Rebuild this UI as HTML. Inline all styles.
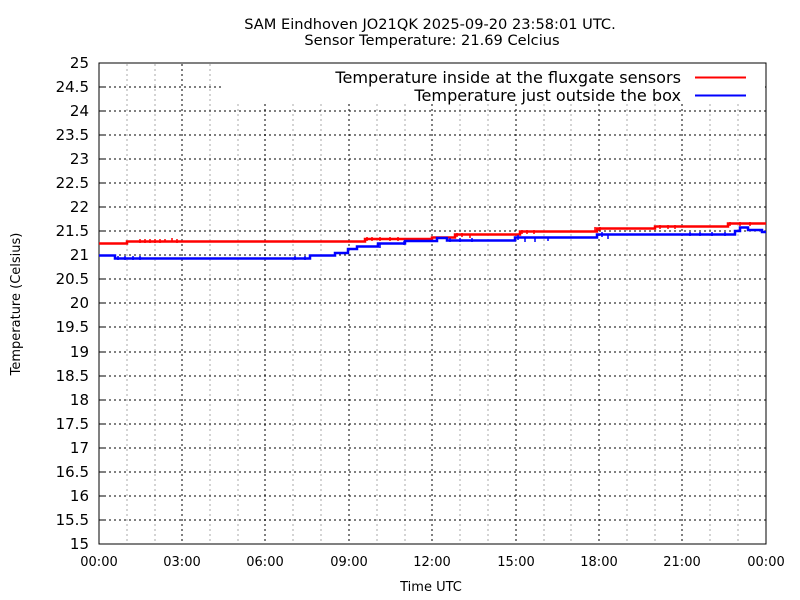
<!DOCTYPE html>
<html><head><style>body{margin:0;background:#fff}svg{display:block}</style></head><body>
<svg width="800" height="600" xmlns="http://www.w3.org/2000/svg" font-family="'DejaVu Sans','Liberation Sans',sans-serif" font-size="13">
<rect width="800" height="600" fill="#fff"/>
<g stroke="#aaa" stroke-width="1" stroke-dasharray="2,3">
<path d="M127 64V544M155 64V544M210 64V544M238 64V544M293 64V544M321 64V544M377 64V544M405 64V544M460 64V544M488 64V544M544 64V544M571 64V544M627 64V544M655 64V544M710 64V544M738 64V544"/>
</g>
<g stroke="#000" stroke-width="1" stroke-dasharray="2,3">
<path d="M182 64V544M265 64V544M349 64V544M432 64V544M516 64V544M599 64V544M682 64V544"/>
<path d="M99 520H766M99 496H766M99 472H766M99 448H766M99 424H766M99 400H766M99 376H766M99 352H766M99 327H766M99 303H766M99 279H766M99 255H766M99 231H766M99 207H766M99 183H766M99 159H766M99 135H766M99 111H766M99 87H766"/>
</g>
<rect x="222" y="64" width="543" height="40" fill="#fff"/>
<rect x="99" y="63" width="667" height="481" fill="none" stroke="#000"/>
<g stroke="#000"><path d="M99 544h6M99 520h6M99 496h6M99 472h6M99 448h6M99 424h6M99 400h6M99 376h6M99 352h6M99 327h6M99 303h6M99 279h6M99 255h6M99 231h6M99 207h6M99 183h6M99 159h6M99 135h6M99 111h6M99 87h6M99 63h6"/></g>
<g text-anchor="end" font-size="15">
<text x="89" y="549">15</text><text x="89" y="525">15.5</text><text x="89" y="501">16</text><text x="89" y="477">16.5</text><text x="89" y="453">17</text><text x="89" y="429">17.5</text><text x="89" y="405">18</text><text x="89" y="381">18.5</text><text x="89" y="357">19</text><text x="89" y="332">19.5</text><text x="89" y="308">20</text><text x="89" y="284">20.5</text><text x="89" y="260">21</text><text x="89" y="236">21.5</text><text x="89" y="212">22</text><text x="89" y="188">22.5</text><text x="89" y="164">23</text><text x="89" y="140">23.5</text><text x="89" y="116">24</text><text x="89" y="92">24.5</text><text x="89" y="68">25</text>
</g>
<g text-anchor="middle">
<text x="99" y="566">00:00</text><text x="182" y="566">03:00</text><text x="265" y="566">06:00</text><text x="349" y="566">09:00</text><text x="432" y="566">12:00</text><text x="516" y="566">15:00</text><text x="599" y="566">18:00</text><text x="682" y="566">21:00</text><text x="766" y="566">00:00</text>
<text x="431" y="591">Time UTC</text>
<text x="430" y="29" font-size="14.6">SAM Eindhoven JO21QK 2025-09-20 23:58:01 UTC.</text>
<text x="432" y="45" font-size="14.6">Sensor Temperature: 21.69 Celcius</text>
</g>
<text transform="translate(20,304) rotate(-90)" text-anchor="middle">Temperature (Celsius)</text>
<g font-size="16.1" text-anchor="end">
<text x="681" y="83">Temperature inside at the fluxgate sensors</text>
<text x="681" y="101">Temperature just outside the box</text>
</g>
<path d="M695 77.5H746" stroke="#f00" stroke-width="2"/>
<path d="M695 95.5H746" stroke="#00f" stroke-width="2"/>
<polyline fill="none" stroke="#f00" stroke-width="2.5" points="99,243.5 127,243.5 127,241.5 365,241.5 365,239 432,239 432,237.5 455,237.5 455,234.5 520,234.5 520,231.5 597,231.5 597,228.5 655,228.5 655,226.5 728,226.5 728,223.5 766,223.5"/>
<g stroke="#f00" stroke-width="1.5"><path d="M140 239v4M145 239v4M150 239v4M155 239v4M160 239v4M165 239v3M172 238v4M177 239v4M367 237v4M372 237v4M380 237v4M390 237v4M398 237v4M457 233v4M462 233v4M470 235v3M522 230v4M527 230v4M534 230v4M595 227v4M600 227v4M660 225v4M668 225v4M675 225v4M730 222v4M740 222v4M750 222v4"/></g>
<polyline fill="none" stroke="#00f" stroke-width="2.5" points="99,255.5 115,255.5 115,258.5 310,258.5 310,255.5 335,255.5 335,253 348,253 348,249 357,249 357,246.5 378,246.5 378,243.5 405,243.5 405,241 437,241 437,238 447,238 447,240.5 515,240.5 515,237.5 597,237.5 597,234.5 735,234.5 735,231 740,231 740,227.5 748,227.5 748,230 762,230 762,232 766,232"/>
<g stroke="#00f" stroke-width="1.5"><path d="M118 256v4M125 256v4M133 256v4M140 256v4M295 256v4M305 256v4M380 244v4M404 241v4M450 238v4M460 238v4M472 238v4M518 235v5M525 238v4M535 238v4M548 238v3M602 232v5M608 235v4M690 232v4M700 232v4M712 232v4M725 232v4"/></g>
</svg>
</body></html>
